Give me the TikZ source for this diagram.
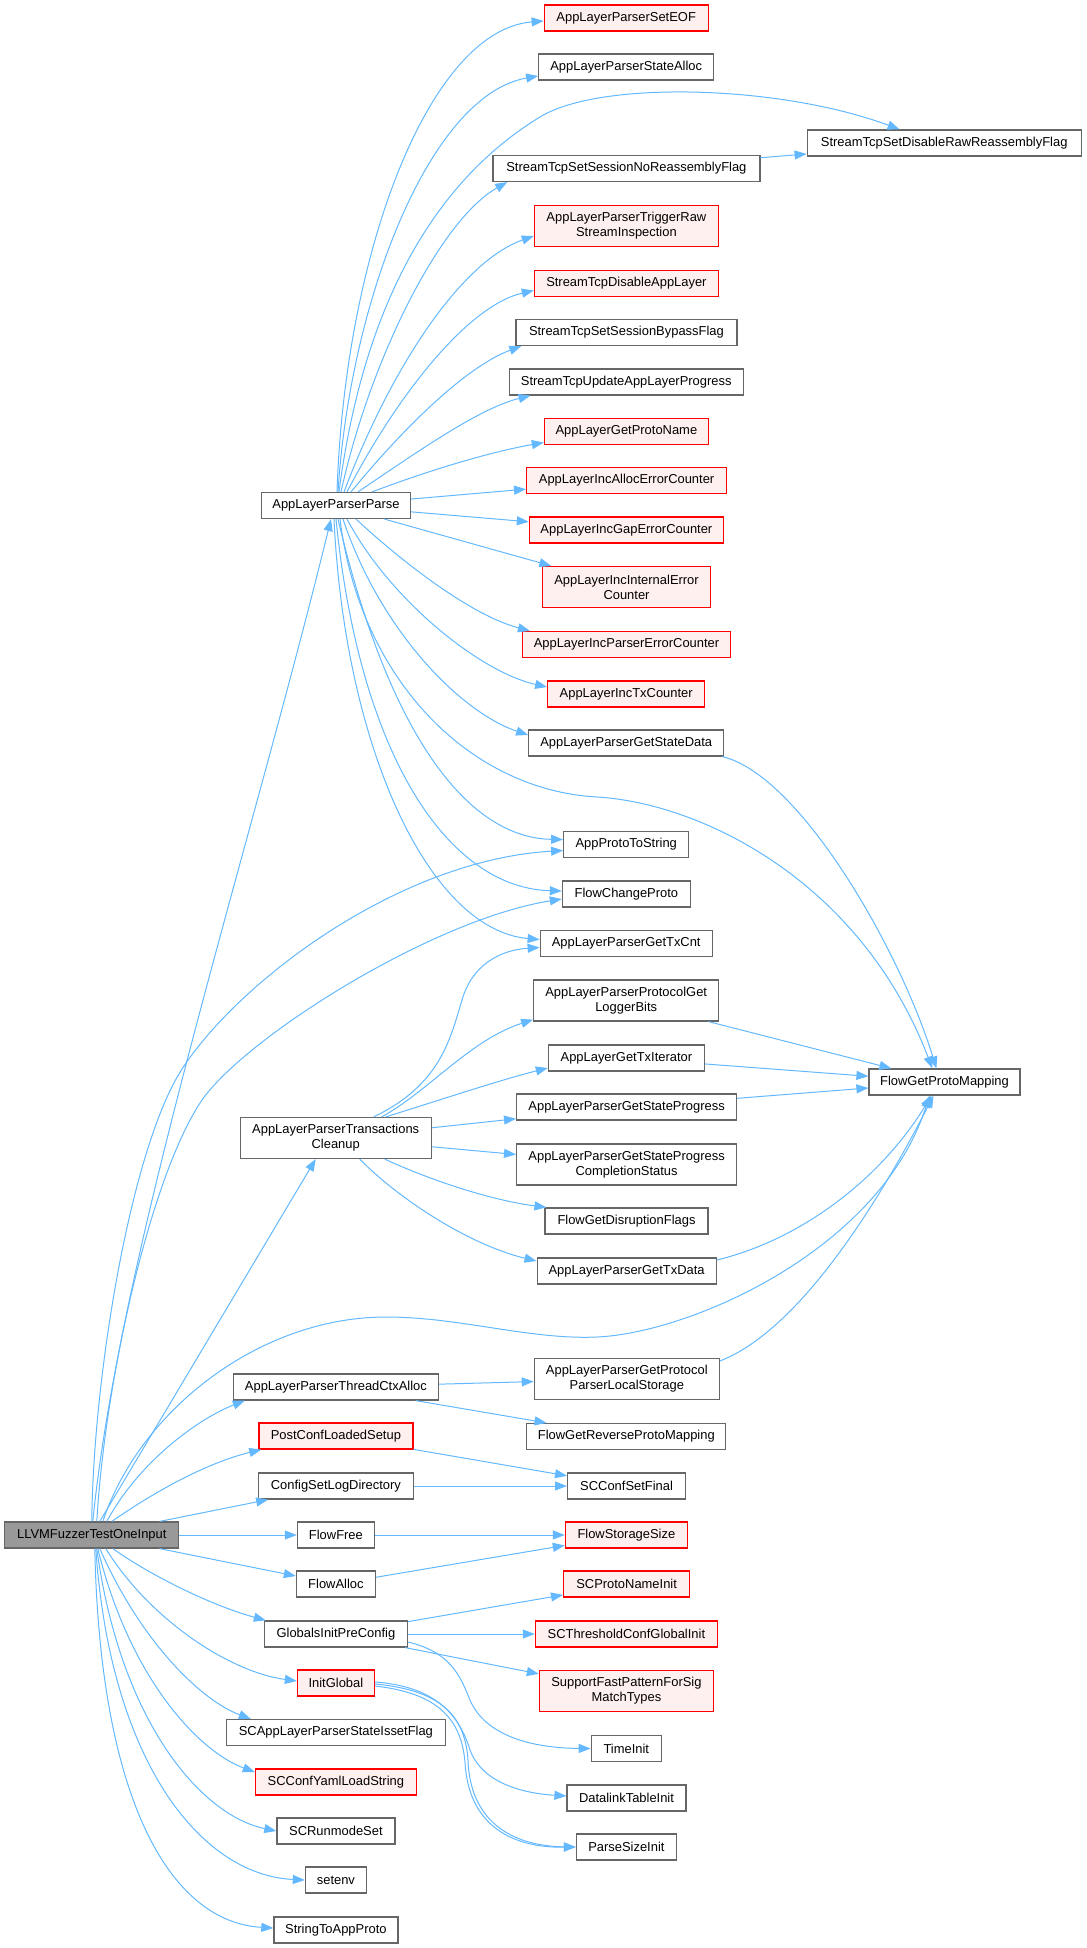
\documentclass[tikz,border=0pt]{standalone}
\usepackage{fontspec}
\setmainfont{Liberation Sans}
\usetikzlibrary{arrows.meta,calc}
\definecolor{edgec}{HTML}{63B8FF}
\definecolor{bord}{HTML}{666666}
\definecolor{redfill}{HTML}{FFF0F0}
\definecolor{rootfill}{HTML}{999999}
\begin{document}
\begin{tikzpicture}[x=0.75pt,y=-0.75pt,
  nd/.style={draw=bord, line width=0.9pt, fill=white, inner sep=0pt, minimum height=19.5pt, align=center, font=\fontsize{9.7pt}{11.25pt}\selectfont},
  nd2/.style={nd, minimum height=30.75pt},
  hot/.style={draw=red, fill=redfill},
  root/.style={fill=rootfill},
  ed/.style={draw=edgec, line width=0.75pt, -{Triangle[length=9pt,width=6.75pt]}}]
\useasboundingbox (0,0) rectangle (1087,1948);
% nodes
\node[nd,hot,minimum width=123pt] (SetEOF) at (626.2,18) {AppLayerParserSetEOF};
\node[nd,minimum width=131.25pt] (StateAlloc) at (626.2,67) {AppLayerParserStateAlloc};
\node[nd,minimum width=205.5pt] (DisableRaw) at (944.2,143) {StreamTcpSetDisableRawReassemblyFlag};
\node[nd,minimum width=200.25pt] (NoReass) at (626.4,168.5) {StreamTcpSetSessionNoReassemblyFlag};
\node[nd2,hot,minimum width=138pt] (TriggerRaw) at (626.4,226) {AppLayerParserTriggerRaw\\StreamInspection};
\node[nd,hot,minimum width=138pt] (DisableAppLayer) at (626.4,283.5) {StreamTcpDisableAppLayer};
\node[nd,minimum width=165.75pt] (BypassFlag) at (626.4,332.5) {StreamTcpSetSessionBypassFlag};
\node[nd,minimum width=175.5pt] (UpdateProgress) at (626.2,382) {StreamTcpUpdateAppLayerProgress};
\node[nd,hot,minimum width=123pt] (GetProtoName) at (626.4,431.5) {AppLayerGetProtoName};
\node[nd,hot,minimum width=150pt] (IncAlloc) at (626.6,480.5) {AppLayerIncAllocErrorCounter};
\node[nd,minimum width=111.75pt] (P) at (336,505.5) {AppLayerParserParse};
\node[nd,hot,minimum width=145.5pt] (IncGap) at (626.4,530) {AppLayerIncGapErrorCounter};
\node[nd2,hot,minimum width=126pt] (IncInternal) at (626.5,587) {AppLayerIncInternalError\\Counter};
\node[nd,hot,minimum width=156pt] (IncParser) at (626.5,644.5) {AppLayerIncParserErrorCounter};
\node[nd,hot,minimum width=117.75pt] (IncTx) at (626.2,694) {AppLayerIncTxCounter};
\node[nd,minimum width=146.25pt] (GetStateData) at (626.2,743) {AppLayerParserGetStateData};
\node[nd,minimum width=93.75pt] (APTS) at (626.2,844.5) {AppProtoToString};
\node[nd,minimum width=96pt] (FCP) at (626.4,894) {FlowChangeProto};
\node[nd,minimum width=129pt] (GetTxCnt) at (626.2,943.5) {AppLayerParserGetTxCnt};
\node[nd2,minimum width=138.75pt] (LoggerBits) at (626.2,1000.5) {AppLayerParserProtocolGet\\LoggerBits};
\node[nd,minimum width=117pt] (GetTxIterator) at (626.4,1058) {AppLayerGetTxIterator};
\node[nd,minimum width=165pt] (GetStateProgress) at (626.6,1107) {AppLayerParserGetStateProgress};
\node[nd2,minimum width=143.25pt] (TC) at (335.7,1138) {AppLayerParserTransactions\\Cleanup};
\node[nd2,minimum width=165pt] (CompletionStatus) at (626.6,1164.5) {AppLayerParserGetStateProgress\\CompletionStatus};
\node[nd,minimum width=113.25pt] (FGPM) at (944.5,1082) {FlowGetProtoMapping};
\node[nd,minimum width=122.25pt] (Disruption) at (626.5,1221) {FlowGetDisruptionFlags};
\node[nd,minimum width=134.25pt] (GetTxData) at (626.6,1271) {AppLayerParserGetTxData};
\node[nd2,minimum width=138.75pt] (LocalStorage) at (626.8,1379) {AppLayerParserGetProtocol\\ParserLocalStorage};
\node[nd,minimum width=153.75pt] (ThreadCtx) at (335.9,1387) {AppLayerParserThreadCtxAlloc};
\node[nd,minimum width=149.25pt] (Reverse) at (626.3,1436.5) {FlowGetReverseProtoMapping};
\node[nd,hot,minimum width=115.5pt] (PostConf) at (335.9,1436) {PostConfLoadedSetup};
\node[nd,minimum width=116.25pt] (ConfigSet) at (335.9,1486) {ConfigSetLogDirectory};
\node[nd,minimum width=88.5pt] (ConfSetFinal) at (626.6,1486) {SCConfSetFinal};
\node[nd,root,minimum width=130.5pt] (L) at (91.8,1535) {LLVMFuzzerTestOneInput};
\node[nd,minimum width=57.75pt] (FlowFree) at (335.9,1535) {FlowFree};
\node[nd,hot,minimum width=91.5pt] (StorageSize) at (626.4,1535) {FlowStorageSize};
\node[nd,minimum width=59.25pt] (FlowAlloc) at (335.9,1584) {FlowAlloc};
\node[nd,hot,minimum width=94.5pt] (ProtoNameInit) at (626.6,1584) {SCProtoNameInit};
\node[nd,minimum width=107.25pt] (GlobalsInit) at (335.9,1634) {GlobalsInitPreConfig};
\node[nd,hot,minimum width=136.5pt] (Threshold) at (626.4,1634) {SCThresholdConfGlobalInit};
\node[nd2,hot,minimum width=130.5pt] (SupportFast) at (626.4,1691) {SupportFastPatternForSig\\MatchTypes};
\node[nd,hot,minimum width=57.75pt] (InitGlobal) at (335.9,1683) {InitGlobal};
\node[nd,minimum width=164.25pt] (Isset) at (335.9,1732.5) {SCAppLayerParserStateIssetFlag};
\node[nd,minimum width=52.5pt] (TimeInit) at (626.3,1748.5) {TimeInit};
\node[nd,hot,minimum width=120.75pt] (Yaml) at (335.9,1782) {SCConfYamlLoadString};
\node[nd,minimum width=89.25pt] (Datalink) at (626.5,1798) {DatalinkTableInit};
\node[nd,minimum width=88.5pt] (Runmode) at (335.9,1831) {SCRunmodeSet};
\node[nd,minimum width=75pt] (ParseSize) at (626.4,1847) {ParseSizeInit};
\node[nd,minimum width=45.75pt] (setenv) at (335.9,1880) {setenv};
\node[nd,minimum width=93pt] (S2AP) at (335.9,1930) {StringToAppProto};
% edges from AppLayerParserParse
\draw[ed] ($(P.north)+(1,0)$) .. controls (345,250) and (430,30) .. ($(SetEOF.west)+(0,3)$);
\draw[ed] ($(P.north)+(2,0)$) .. controls (350,300) and (430,95) .. ($(StateAlloc.west)+(0,9)$);
\draw[ed] ($(P.north)+(3,0)$) .. controls (360,330) and (420,190) .. (540,117) .. controls (600,80) and (780,85) .. ($(DisableRaw.north west)+(93,0)$);
\draw[ed] ($(P.north)+(5,0)$) .. controls (370,360) and (440,220) .. ($(NoReass.south west)+(15,0)$);
\draw[ed] ($(P.north)+(8,0)$) .. controls (390,370) and (460,262) .. ($(TriggerRaw.west)+(0,10)$);
\draw[ed] ($(P.north)+(11,0)$) .. controls (400,390) and (470,305) .. ($(DisableAppLayer.west)+(0,7)$);
\draw[ed] ($(P.north)+(15,0)$) .. controls (410,420) and (470,365) .. ($(BypassFlag.south west)+(6,0)$);
\draw[ed] ($(P.north)+(22,0)$) .. controls (420,450) and (480,408) .. ($(UpdateProgress.south west)+(22,0)$);
\draw[ed] ($(P.north)+(36,0)$) .. controls (430,470) and (490,452) .. ($(GetProtoName.west)+(0,11)$);
\draw[ed] (P) -- (IncAlloc);
\draw[ed] (P) -- (IncGap);
\draw[ed] (P) -- (IncInternal);
\draw[ed] ($(P.south)+(20,0)$) .. controls (400,560) and (470,615) .. ($(IncParser.north west)+(8,0)$);
\draw[ed] ($(P.south)+(11,0)$) .. controls (390,600) and (480,672) .. ($(IncTx.west)+(0,-7)$);
\draw[ed] ($(P.south)+(7,0)$) .. controls (380,630) and (460,712) .. ($(GetStateData.west)+(0,-8)$);
\draw[ed] ($(P.south)+(4,0)$) .. controls (360,680) and (470,790) .. (597,797) .. controls (700,803) and (860,880) .. ($(FGPM.north west)+(64,0)$);
\draw[ed] ($(P.south)+(2,0)$) .. controls (390,740) and (470,838) .. ($(APTS.west)+(0,-5)$);
\draw[ed] ($(P.south)+(0,0)$) .. controls (360,760) and (450,888) .. ($(FCP.west)+(0,-3)$);
\draw[ed] ($(P.south)+(-2,0)$) .. controls (345,750) and (430,930) .. ($(GetTxCnt.west)+(0,-4)$);
\draw[ed] (NoReass) -- (DisableRaw);
\draw[ed] ($(GetStateData.south east)+(-2,0)$) .. controls (800,775) and (900,950) .. ($(FGPM.north west)+(68,0)$);
% edges from AppLayerParserTransactionsCleanup
\draw[ed] ($(TC.north)+(38,0)$) .. controls (440,1085) and (450,1040) .. (462,1000) .. controls (472,965) and (500,950) .. ($(GetTxCnt.west)+(0,4)$);
\draw[ed] ($(TC.north)+(46,0)$) .. controls (430,1090) and (470,1040) .. ($(LoggerBits.south west)+(0,-2)$);
\draw[ed] ($(TC.north)+(50,0)$) .. controls (440,1100) and (500,1080) .. ($(GetTxIterator.west)+(0,10)$);
\draw[ed] (TC) -- (GetStateProgress);
\draw[ed] (TC) -- (CompletionStatus);
\draw[ed] ($(TC.south)+(49,0)$) .. controls (430,1180) and (490,1200) .. ($(Disruption.north west)+(2,0)$);
\draw[ed] ($(TC.south)+(24,0)$) .. controls (400,1200) and (470,1245) .. ($(GetTxData.west)+(0,-10)$);
% into FlowGetProtoMapping
\draw[ed] (LoggerBits) -- (FGPM);
\draw[ed] (GetTxIterator) -- (FGPM);
\draw[ed] (GetStateProgress) -- (FGPM);
\draw[ed] ($(GetTxData.east)+(0,-11)$) .. controls (800,1240) and (880,1180) .. ($(FGPM.south)+(-13,0)$);
\draw[ed] ($(LocalStorage.east)+(0,-18)$) .. controls (800,1330) and (880,1200) .. ($(FGPM.south)+(-11,0)$);
% second column to third
\draw[ed] (ThreadCtx) -- (LocalStorage);
\draw[ed] (ThreadCtx) -- (Reverse);
\draw[ed] (PostConf) -- (ConfSetFinal);
\draw[ed] (ConfigSet) -- (ConfSetFinal);
\draw[ed] (FlowFree) -- (StorageSize);
\draw[ed] (FlowAlloc) -- (StorageSize);
\draw[ed] (GlobalsInit) -- (ProtoNameInit);
\draw[ed] (GlobalsInit) -- (Threshold);
\draw[ed] (GlobalsInit) -- (SupportFast);
\draw[ed] ($(GlobalsInit.east)+(0,8)$) .. controls (450,1652) and (460,1675) .. (470,1700) .. controls (485,1735) and (530,1748) .. (TimeInit.west);
\draw[ed] ($(InitGlobal.east)+(0,-1)$) .. controls (430,1686) and (458,1710) .. (470,1750) .. controls (482,1782) and (520,1793) .. ($(Datalink.west)+(0,-2)$);
\draw[ed] ($(InitGlobal.east)+(0,1)$) .. controls (440,1690) and (465,1715) .. (468,1760) .. controls (470,1820) and (510,1846) .. (ParseSize.west);
\draw[ed] ($(InitGlobal.east)+(0,3)$) .. controls (437,1693) and (461,1718) .. (465,1762) .. controls (468,1822) and (508,1848) .. (ParseSize.west);
% edges from LLVMFuzzerTestOneInput
\draw[ed] ($(L.north)+(1,0)$) .. controls (120,1250) and (250,850) .. ($(P.south)+(-5,0)$);
\draw[ed] ($(L.north)+(0,0)$) .. controls (93,1380) and (130,1150) .. (182,1069) .. controls (240,980) and (400,860) .. ($(APTS.west)+(0,6)$);
\draw[ed] ($(L.north)+(5,0)$) .. controls (105,1380) and (150,1180) .. (200,1103) .. controls (240,1041) and (430,920) .. ($(FCP.west)+(0,5)$);
\draw[ed] ($(L.north)+(8,0)$) -- ($(TC.south)+(-20,0)$);
\draw[ed] ($(L.north)+(11,0)$) .. controls (140,1410) and (260,1317) .. (386,1317) .. controls (460,1317) and (530,1340) .. (597,1337) .. controls (690,1333) and (880,1250) .. ($(FGPM.south)+(-15,0)$);
\draw[ed] ($(L.north)+(15,0)$) .. controls (140,1460) and (200,1418) .. ($(ThreadCtx.south west)+(12,0)$);
\draw[ed] ($(L.north)+(20,0)$) .. controls (160,1488) and (210,1462) .. ($(PostConf.south west)+(3,0)$);
\draw[ed] (L) -- (ConfigSet);
\draw[ed] (L) -- (FlowFree);
\draw[ed] (L) -- (FlowAlloc);
\draw[ed] ($(L.south)+(21,0)$) .. controls (150,1575) and (210,1605) .. ($(GlobalsInit.north west)+(2,0)$);
\draw[ed] ($(L.south)+(14,0)$) .. controls (150,1620) and (230,1672) .. ($(InitGlobal.west)+(0,-2)$);
\draw[ed] ($(L.south)+(8,0)$) .. controls (140,1640) and (200,1700) .. ($(Isset.north west)+(25,0)$);
\draw[ed] ($(L.south)+(6,0)$) .. controls (130,1680) and (200,1752) .. ($(Yaml.west)+(0,-10)$);
\draw[ed] ($(L.south)+(5,0)$) .. controls (120,1720) and (200,1815) .. (Runmode.west);
\draw[ed] ($(L.south)+(4,0)$) .. controls (110,1760) and (200,1875) .. (setenv.west);
\draw[ed] ($(L.south)+(3,0)$) .. controls (100,1800) and (170,1922) .. ($(S2AP.west)+(0,-2)$);
\end{tikzpicture}
\end{document}
